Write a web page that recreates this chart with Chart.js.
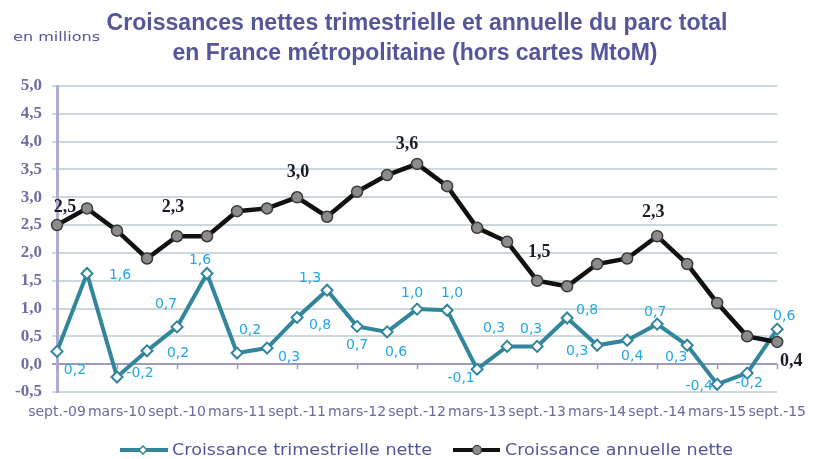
<!DOCTYPE html>
<html><head><meta charset="utf-8">
<script src="https://cdn.jsdelivr.net/npm/chart.js@4/dist/chart.umd.min.js"></script>
<style>html,body{margin:0;padding:0;background:#fff}#wrap{width:818px;height:459px;position:relative}</style>
</head><body><div id="wrap"><canvas id="c"></canvas></div>
<script>
const categories = ['sept.-09','déc.-09','mars-10','juin-10','sept.-10','déc.-10','mars-11','juin-11','sept.-11','déc.-11','mars-12','juin-12','sept.-12','déc.-12','mars-13','juin-13','sept.-13','déc.-13','mars-14','juin-14','sept.-14','déc.-14','mars-15','juin-15','sept.-15'];
const quarterly = [0.23,1.63,-0.23,0.24,0.67,1.63,0.2,0.29,0.84,1.33,0.68,0.58,0.99,0.97,-0.09,0.32,0.32,0.83,0.34,0.43,0.72,0.34,-0.36,-0.16,0.63];
const annual = [2.5,2.8,2.4,1.9,2.3,2.3,2.75,2.8,3.0,2.65,3.1,3.4,3.6,3.2,2.45,2.2,1.5,1.4,1.8,1.9,2.3,1.8,1.1,0.5,0.4];
const seriesNames = ['Croissance trimestrielle nette','Croissance annuelle nette'];
const titleLines = ['Croissances nettes trimestrielle et annuelle du parc total','en France métropolitaine (hors cartes MtoM)'];
const unitLabel = 'en millions';
const yMin = -0.5, yMax = 5.0, yStep = 0.5;
const annualLabelIdx = [0,4,8,12,16,20,24];

// label placement offsets (style only)
const qOff = [[18,19],[33,2],[23,-4],[31,3],[-11,-23],[-7,-13],[13,-23],[22,9],[23,8],[-17,-12],[0,19],[9,20],[-5,-16],[5,-17],[-16,9],[-13,-18],[-6,-17],[20,-8],[-20,6],[5,16],[-2,-12],[-11,12],[-18,2],[2,10],[7,-13]];
const aOff = [[8,-18],[-4,-29],[1,-25],[-10,-20],[2,-28],[-4,-24],[14,19]];

const TEAL = '#31869c', LBLUE = '#1fa8e4', TXT = '#55559b';
const fmt = v => v.toFixed(1).replace('.', ',');

function fitText(ctx, text, x, y, w, font, color, align){
  ctx.save(); ctx.font = font; const m = ctx.measureText(text).width;
  ctx.translate(x, y); ctx.scale(w/m, 1); ctx.textAlign = align; ctx.textBaseline = 'middle';
  ctx.fillStyle = color; ctx.fillText(text, 0, 0); ctx.restore();
}

const deco = {
  id: 'deco',
  beforeDatasetsDraw(chart){
    const ctx = chart.ctx, x = chart.scales.x, y = chart.scales.y;
    const y0 = y.getPixelForValue(0);
    ctx.save(); ctx.strokeStyle = '#9d9cc0'; ctx.lineWidth = 1.5;
    for (let i = 0; i < categories.length; i += 2){
      const px = Math.round(x.getPixelForValue(i)) + 0.5;
      ctx.beginPath(); ctx.moveTo(px, y0); ctx.lineTo(px, y0 + 5); ctx.stroke();
    }
    ctx.restore();
  },
  afterDatasetsDraw(chart){
    const ctx = chart.ctx;
    const m0 = chart.getDatasetMeta(0), m1 = chart.getDatasetMeta(1);
    ctx.save(); ctx.textAlign = 'center'; ctx.textBaseline = 'middle';
    ctx.font = '14px "DejaVu Sans"'; ctx.fillStyle = LBLUE;
    quarterly.forEach((v, i) => {
      const p = m0.data[i];
      ctx.fillText(fmt(v), p.x + qOff[i][0], p.y + qOff[i][1]);
    });
    ctx.font = 'bold 18px "Liberation Serif"'; ctx.fillStyle = '#1c1c28';
    annualLabelIdx.forEach((i, k) => {
      const p = m1.data[i];
      ctx.fillText(fmt(annual[i]), p.x + aOff[k][0], p.y + aOff[k][1]);
    });
    ctx.restore();
  },
  afterDraw(chart){
    const ctx = chart.ctx;
    fitText(ctx, titleLines[0], 417, 24, 621, 'bold 23px "Liberation Sans"', TXT, 'center');
    fitText(ctx, titleLines[1], 415, 54, 485, 'bold 23px "Liberation Sans"', TXT, 'center');
    fitText(ctx, unitLabel, 13, 38, 87, '13px "DejaVu Sans"', TXT, 'left');
    // legend
    ctx.save();
    ctx.lineWidth = 4; ctx.strokeStyle = TEAL;
    ctx.beginPath(); ctx.moveTo(120, 450); ctx.lineTo(168, 450); ctx.stroke();
    ctx.fillStyle = '#fff'; ctx.lineWidth = 1.5;
    ctx.beginPath(); ctx.moveTo(143, 446); ctx.lineTo(147, 450); ctx.lineTo(143, 454); ctx.lineTo(139, 450); ctx.closePath(); ctx.fill(); ctx.stroke();
    ctx.lineWidth = 4; ctx.strokeStyle = '#111';
    ctx.beginPath(); ctx.moveTo(453, 450); ctx.lineTo(500, 450); ctx.stroke();
    ctx.fillStyle = '#8c8c8c'; ctx.lineWidth = 1.2; ctx.strokeStyle = '#333';
    ctx.beginPath(); ctx.arc(477, 450, 4.5, 0, Math.PI*2); ctx.fill(); ctx.stroke();
    ctx.restore();
    fitText(ctx, chart.data.datasets[0].label, 172, 451, 260, '16px "DejaVu Sans"', TXT, 'left');
    fitText(ctx, chart.data.datasets[1].label, 505, 451, 228, '16px "DejaVu Sans"', TXT, 'left');
  }
};

new Chart(document.getElementById('c'), {
  type: 'line',
  data: {
    labels: categories,
    datasets: [
      { label: seriesNames[0], data: quarterly, borderColor: TEAL, borderWidth: 4, tension: 0,
        pointStyle: 'rectRot', pointRadius: 5.5, pointBackgroundColor: '#fff', pointBorderColor: TEAL, pointBorderWidth: 2, order: 2 },
      { label: seriesNames[1], data: annual, borderColor: '#111', borderWidth: 4.5, tension: 0,
        pointStyle: 'circle', pointRadius: 5.5, pointBackgroundColor: '#8c8c8c', pointBorderColor: '#3a3a3a', pointBorderWidth: 1.5, order: 1 }
    ]
  },
  options: {
    responsive: true, maintainAspectRatio: false, animation: false,
    layout: { padding: { top: 86, right: 31, bottom: 0, left: 0 } },
    plugins: { legend: { display: false }, title: { display: false }, tooltip: { enabled: false } },
    scales: {
      x: {
        offset: false,
        grid: { display: false, drawTicks: false },
        border: { display: false },
        ticks: { autoSkip: false, maxRotation: 0, minRotation: 0, padding: 12,
          font: { family: 'DejaVu Sans', size: 14 }, color: '#6a69a0',
          callback: function(v, i){ return i % 2 === 0 ? categories[i] : null; } },
        afterFit: s => { s.height = 67; }
      },
      y: {
        min: yMin, max: yMax,
        grid: { color: c => c.tick && c.tick.value === 0 ? '#9d9cc0' : '#cdd8dc', lineWidth: 2, tickLength: 5 },
        border: { color: '#b0aed0', width: 3 },
        ticks: { stepSize: yStep, padding: 10, font: { family: 'Liberation Serif', size: 17, weight: 'bold' }, color: '#6e6ea2',
          callback: v => fmt(v) },
        afterFit: s => { s.width = 57; }
      }
    }
  },
  plugins: [deco]
});
</script></body></html>
